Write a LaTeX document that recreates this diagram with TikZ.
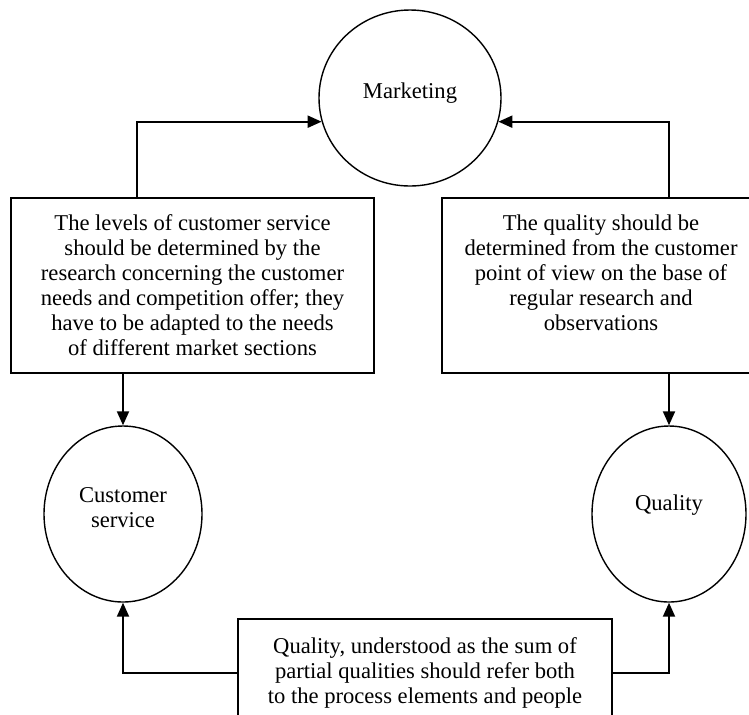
\documentclass[tikz,border=0pt]{standalone}
\usepackage{fontspec}
\setmainfont{Liberation Serif}
\usetikzlibrary{arrows.meta,shapes.geometric}

\begin{document}
\begin{tikzpicture}[x=0.5pt,y=-0.5pt,
  font=\fontsize{11.3}{12.5}\selectfont,
  blob/.style={draw, ellipse, line width=0.7pt, inner sep=0pt,
    minimum width=#1, minimum height=88pt},
  textbox/.style={draw, rectangle, line width=0.7pt, align=center, inner sep=0pt},
  flow/.style={line width=1pt, -{Triangle[length=7pt,width=6pt]}}]
  \useasboundingbox (0,0) rectangle (749,714);
  \clip (0,0) rectangle (749,714);
  % circles
  \node[blob=91pt, text height=8pt, text depth=8pt] (mkt) at (410,98) {Marketing};
  \node[blob=79pt, align=center] (cs) at (123,514) {Customer\\ service\\[-6pt]\mbox{}};
  \node[blob=77pt, text height=8pt, text depth=12pt] (qual) at (669,514) {Quality};
  % text boxes
  \node[textbox, minimum width=181.5pt, minimum height=87.5pt] (lbox) at (192.5,285.5)
    {The levels of customer service\\ should be determined by the\\
     research concerning the customer\\ needs and competition offer; they\\
     have to be adapted to the needs\\ of different market sections};
  \node[textbox, minimum width=159pt, minimum height=87.5pt] (rbox) at (601,285.5)
    {The quality should be\\ determined from the customer\\ point of view on the base of\\
     regular research and\\ observations\\ \mbox{}};
  \node[textbox, minimum width=187pt, minimum height=54pt] (bbox) at (425,673)
    {Quality, understood as the sum of\\ partial qualities should refer both\\
     to the process elements and people};
  % connectors
  \draw[flow] ([xshift=63.5pt]lbox.north west) |- (mkt.195);
  \draw[flow] (qual.north |- rbox.north) |- (mkt.-15);
  \draw[flow] (cs.north |- lbox.south) -- (cs.north);
  \draw[flow] (qual.north |- rbox.south) -- (qual.north);
  \draw[flow] (bbox.west) -| (cs.south);
  \draw[flow] (bbox.east) -| (qual.south);
\end{tikzpicture}
\end{document}
